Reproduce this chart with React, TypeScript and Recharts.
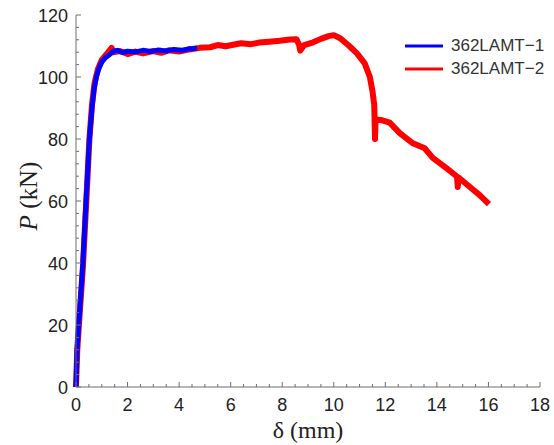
import { LineChart, Line, XAxis, YAxis, Legend, Label } from "recharts";

const AXIS_COLOR = "#6e6e6e";
const TEXT_COLOR = "#222";
const SANS = "'Liberation Sans', Arial, sans-serif";
const SERIF = "'Liberation Serif', 'Times New Roman', serif";

// displacement δ (mm), load P (kN)
const lamt1: [number, number][] = [
    [0, 0], [0.04, 12], [0.12, 22], [0.26, 39], [0.39, 60], [0.52, 80], [0.62, 90], [0.7, 96],
    [0.8, 100.5], [0.9, 103], [1.0, 104.8], [1.15, 106.3], [1.3, 107.2], [1.45, 108.3], [1.6, 108.6],
    [1.8, 107.9], [2.0, 108.3], [2.3, 108.1], [2.6, 108.6], [2.9, 108.2], [3.2, 108.7], [3.5, 108.4],
    [3.8, 108.9], [4.1, 108.6], [4.4, 109.1], [4.7, 109.3],
];

const lamt2: [number, number][] = [
    [0, 0], [0.05, 12], [0.13, 22], [0.27, 39], [0.4, 60], [0.52, 80], [0.62, 91], [0.72, 98],
    [0.85, 102.5], [1.0, 105.5], [1.2, 107.5], [1.38, 109.4], [1.45, 108], [1.7, 108.4], [2.0, 107.4],
    [2.3, 108.2], [2.6, 107.6], [3.0, 108.4], [3.3, 107.8], [3.6, 108.6], [4.0, 108.2], [4.4, 108.9],
    [4.8, 109.4], [5.2, 109.6], [5.5, 110.3], [5.8, 109.9], [6.1, 110.4], [6.4, 110.9], [6.8, 110.6],
    [7.1, 111.1], [7.5, 111.4], [7.9, 111.7], [8.3, 112.1], [8.55, 112.2], [8.65, 110.5], [8.7, 108.5],
    [8.85, 110.3], [9.2, 111.2], [9.5, 112.3], [9.8, 113.2], [10.0, 113.5], [10.25, 112.5], [10.6, 110],
    [10.9, 107.6], [11.2, 104.4], [11.4, 100], [11.5, 95.5], [11.57, 91], [11.6, 80], [11.62, 86.3],
    [11.85, 86.1], [12.17, 85.3], [12.56, 81.9], [13.07, 78.6], [13.53, 77], [13.84, 73.9], [14.37, 70.6],
    [14.78, 67.9], [14.81, 64.5], [14.84, 67.6], [15.27, 64.6], [15.66, 61.9], [16.02, 59],
];

const xMajorTicks = [0, 2, 4, 6, 8, 10, 12, 14, 16, 18];
const yMajorTicks = [0, 20, 40, 60, 80, 100, 120];
const xMinorStep = 0.5;
const yMinorStep = 4;

const minorTicks = (major: number[], step: number) => {
    const out: number[] = [];
    const max = major[major.length - 1];
    for (let v = 0; v <= max + 1e-9; v += step) out.push(Math.round(v * 100) / 100);
    return out;
};

const xTicks = minorTicks(xMajorTicks, xMinorStep);
const yTicks = minorTicks(yMajorTicks, yMinorStep);

const toRows = (pts: [number, number][]) => pts.map(([x, p]) => ({ x, p }));

const XTick = ({ x, y, payload }: any) => {
    const major = xMajorTicks.includes(payload.value);
    return (
        <g>
            <line x1={x} x2={x} y1={y} y2={y - (major ? 5 : 3)} stroke={AXIS_COLOR} />
            {major && (
                <text x={x} y={y + 24} textAnchor="middle" fontSize={18} fontFamily={SANS} fill={TEXT_COLOR}>
                    {payload.value}
                </text>
            )}
        </g>
    );
};

const YTick = ({ x, y, payload }: any) => {
    const major = yMajorTicks.includes(payload.value);
    return (
        <g>
            <line x1={x} x2={x + (major ? 5 : 3)} y1={y} y2={y} stroke={AXIS_COLOR} />
            {major && (
                <text x={x - 8} y={y + 6.5} textAnchor="end" fontSize={18} fontFamily={SANS} fill={TEXT_COLOR}>
                    {payload.value}
                </text>
            )}
        </g>
    );
};

const XTitle = ({ viewBox }: any) => (
    <text x={viewBox.x + viewBox.width / 2} y={viewBox.y + 51} textAnchor="middle" fontSize={24} fontFamily={SERIF} fill={TEXT_COLOR}>
        δ (mm)
    </text>
);

const YTitle = ({ viewBox }: any) => {
    const cx = 28;
    const cy = viewBox.y + viewBox.height / 2 - 5;
    return (
        <text x={cx} y={cy} transform={`rotate(-90, ${cx}, ${cy})`} textAnchor="middle" dominantBaseline="central" fontSize={25} fontFamily={SERIF} fill={TEXT_COLOR}>
            <tspan fontStyle="italic">P</tspan> (kN)
        </text>
    );
};

const LegendBox = ({ payload }: any) => (
    <div>
        {(payload || []).map((item: any) => (
            <div key={item.value} style={{ display: "flex", alignItems: "center", height: 23 }}>
                <svg width={38} height={6}>
                    <line x1={0} x2={38} y1={3} y2={3} stroke={item.color} strokeWidth={3} />
                </svg>
                <span style={{ marginLeft: 8, fontSize: 17, fontFamily: SANS, color: "#333" }}>{item.value}</span>
            </div>
        ))}
    </div>
);

export default function App() {
    return (
        <div style={{ position: "absolute", left: 0, top: 0, width: 554, height: 445, background: "#fff" }}>
            <LineChart width={554} height={445} margin={{ top: 15, right: 14, left: 16, bottom: 28 }}>
                <XAxis
                    type="number"
                    dataKey="x"
                    domain={[0, 18]}
                    ticks={xTicks}
                    interval={0}
                    height={30}
                    tickSize={0}
                    tickMargin={0}
                    tickLine={false}
                    axisLine={{ stroke: AXIS_COLOR }}
                    tick={<XTick />}
                    allowDuplicatedCategory={false}
                >
                    <Label content={<XTitle />} />
                </XAxis>
                <YAxis
                    type="number"
                    domain={[0, 120]}
                    ticks={yTicks}
                    interval={0}
                    width={60}
                    tickSize={0}
                    tickMargin={0}
                    tickLine={false}
                    axisLine={{ stroke: AXIS_COLOR }}
                    tick={<YTick />}
                >
                    <Label content={<YTitle />} />
                </YAxis>
                <Legend
                    layout="vertical"
                    align="center"
                    verticalAlign="middle"
                    content={<LegendBox />}
                    wrapperStyle={{ top: 34, left: 405, width: 150 }}
                />
                <Line
                    name="362LAMT−2"
                    data={toRows(lamt2)}
                    dataKey="p"
                    type="linear"
                    stroke="#ff0000"
                    strokeWidth={6}
                    strokeLinejoin="round"
                    dot={false}
                    isAnimationActive={false}
                    legendType="line"
                />
                <Line
                    name="362LAMT−1"
                    data={toRows(lamt1)}
                    dataKey="p"
                    type="linear"
                    stroke="#0000ff"
                    strokeWidth={5}
                    strokeLinejoin="round"
                    dot={false}
                    isAnimationActive={false}
                    legendType="line"
                />
            </LineChart>
        </div>
    );
}
